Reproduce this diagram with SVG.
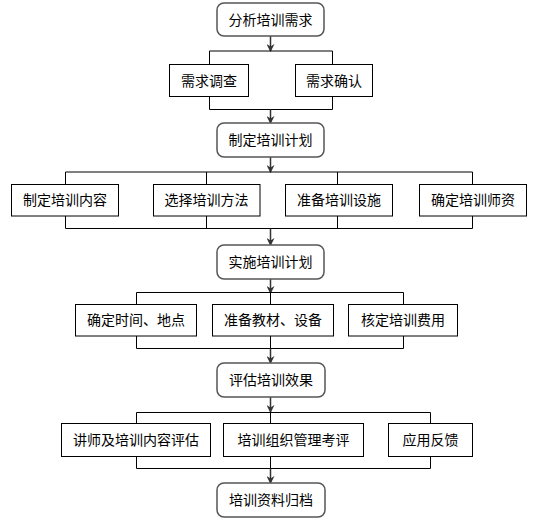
<svg xmlns="http://www.w3.org/2000/svg" width="540" height="522" viewBox="0 0 540 522">
<defs>
<marker id="ah" markerWidth="8" markerHeight="8" refX="7" refY="4" orient="auto" markerUnits="userSpaceOnUse">
<path d="M0,0 L8,4 L0,8 L2.5,4 Z" fill="#333"/>
</marker>
<style>
.main{fill:#fff;stroke:#555;stroke-width:1.5}
.sub{fill:#fff;stroke:#000;stroke-width:1}
.br{fill:none;stroke:#000;stroke-width:1}
.ar{fill:none;stroke:#333;stroke-width:1.5;marker-end:url(#ah)}
text{font-family:"Noto Sans CJK SC","Noto Sans",sans-serif;font-size:14px;fill:#000;text-anchor:middle}
</style>
</defs>
<rect width="540" height="522" fill="#fff"/>
<g id="connectors">
<line class="ar" x1="270.5" y1="36" x2="270.5" y2="51"/>
<polyline class="br" points="209.5,64 209.5,51 332.5,51 332.5,64"/>
<polyline class="br" points="209.5,97 209.5,109.5 332.5,109.5 332.5,97"/>
<line class="ar" x1="270.5" y1="109.5" x2="270.5" y2="123"/>
<line class="ar" x1="270.5" y1="157" x2="270.5" y2="172"/>
<polyline class="br" points="65.5,184 65.5,172 472.5,172 472.5,184"/>
<line class="br" x1="206.5" y1="172" x2="206.5" y2="184"/>
<line class="br" x1="337.5" y1="172" x2="337.5" y2="184"/>
<polyline class="br" points="65.5,216 65.5,228.5 472.5,228.5 472.5,216"/>
<line class="br" x1="206.5" y1="216" x2="206.5" y2="228.5"/>
<line class="br" x1="337.5" y1="216" x2="337.5" y2="228.5"/>
<line class="ar" x1="270.5" y1="228.5" x2="270.5" y2="245"/>
<line class="ar" x1="270.5" y1="279" x2="270.5" y2="293"/>
<polyline class="br" points="136.5,304 136.5,292.5 403.5,292.5 403.5,304"/>
<line class="br" x1="270.5" y1="292.5" x2="270.5" y2="304"/>
<polyline class="br" points="136.5,336 136.5,348.5 403.5,348.5 403.5,336"/>
<line class="br" x1="270.5" y1="336" x2="270.5" y2="348.5"/>
<line class="ar" x1="270.5" y1="348.5" x2="270.5" y2="363"/>
<line class="ar" x1="270.5" y1="397" x2="270.5" y2="412"/>
<polyline class="br" points="136.5,423 136.5,412.5 430.5,412.5 430.5,423"/>
<line class="br" x1="270.5" y1="412.5" x2="270.5" y2="423"/>
<polyline class="br" points="136.5,457 136.5,468.5 430.5,468.5 430.5,457"/>
<line class="br" x1="270.5" y1="457" x2="270.5" y2="468.5"/>
<line class="ar" x1="270.5" y1="468.5" x2="270.5" y2="483"/>
</g>
<g id="n1"><rect class="main" x="217" y="3" width="107" height="33" rx="7"/><text x="270.5" y="24.5">分析培训需求</text></g>
<g id="n2"><rect class="sub" x="169.5" y="64.5" width="79" height="32"/><text x="209" y="85.5">需求调查</text></g>
<g id="n3"><rect class="sub" x="295.5" y="64.5" width="77" height="32"/><text x="334" y="85.5">需求确认</text></g>
<g id="n4"><rect class="main" x="217" y="123" width="107" height="34" rx="7"/><text x="270.5" y="145">制定培训计划</text></g>
<g id="n5"><rect class="sub" x="11.5" y="184.5" width="107" height="31.5"/><text x="65" y="205">制定培训内容</text></g>
<g id="n6"><rect class="sub" x="153.5" y="184.5" width="106.5" height="31.5"/><text x="206.5" y="205">选择培训方法</text></g>
<g id="n7"><rect class="sub" x="285.5" y="184.5" width="107" height="31.5"/><text x="339" y="205">准备培训设施</text></g>
<g id="n8"><rect class="sub" x="419.5" y="184.5" width="107" height="31.5"/><text x="473" y="205">确定培训师资</text></g>
<g id="n9"><rect class="main" x="217" y="245" width="107" height="34" rx="7"/><text x="270.5" y="267">实施培训计划</text></g>
<g id="n10"><rect class="sub" x="75.5" y="304.5" width="121" height="31.5"/><text x="136" y="325">确定时间、地点</text></g>
<g id="n11"><rect class="sub" x="212.5" y="304.5" width="121" height="31.5"/><text x="273" y="325">准备教材、设备</text></g>
<g id="n12"><rect class="sub" x="348.5" y="304.5" width="109" height="31.5"/><text x="403" y="325">核定培训费用</text></g>
<g id="n13"><rect class="main" x="217" y="363" width="108" height="34" rx="7"/><text x="271" y="385">评估培训效果</text></g>
<g id="n14"><rect class="sub" x="61.5" y="423.5" width="149" height="33"/><text x="136" y="445">讲师及培训内容评估</text></g>
<g id="n15"><rect class="sub" x="223.5" y="423.5" width="140" height="33"/><text x="293.5" y="445">培训组织管理考评</text></g>
<g id="n16"><rect class="sub" x="388.5" y="423.5" width="84" height="33"/><text x="430.5" y="445">应用反馈</text></g>
<g id="n17"><rect class="main" x="217" y="483" width="108" height="34" rx="7"/><text x="271" y="505">培训资料归档</text></g>
</svg>
